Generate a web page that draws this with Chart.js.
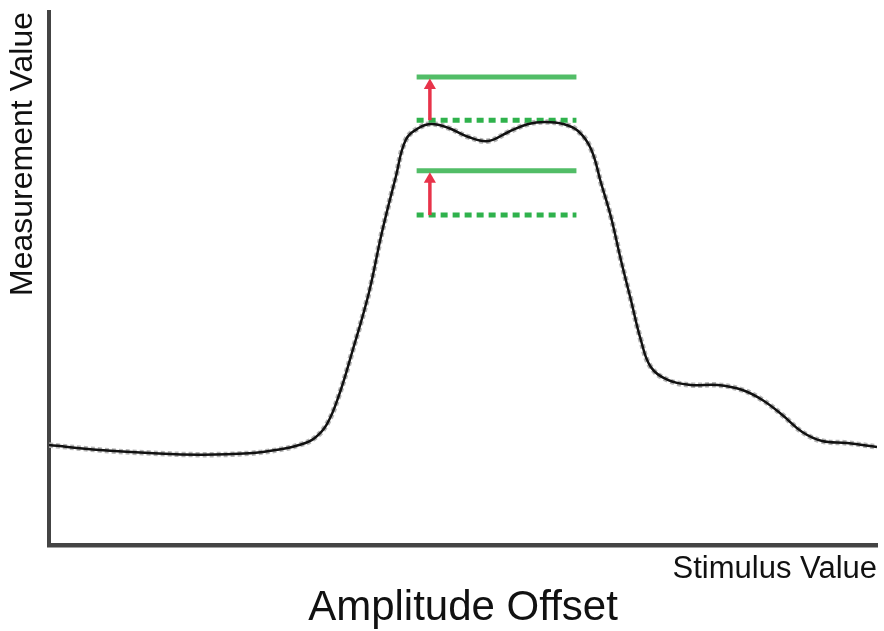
<!DOCTYPE html>
<html>
<head>
<meta charset="utf-8">
<script src="https://cdn.jsdelivr.net/npm/chart.js@4/dist/chart.umd.min.js"></script>
<style>
  html, body { margin: 0; padding: 0; background: #ffffff; }
  #wrap { width: 884px; height: 631px; position: relative; }
</style>
</head>
<body>
<div id="wrap"><canvas id="c"></canvas></div>
<script>
// Stimulus positions (x, 0-100) and measured response (y, 0-100)
const stimulusX = [0, 6.14, 12.15, 18.17, 24.19, 27.8, 30.2, 32.01, 33.57, 35.02, 36.58, 38.63, 40.19, 41.88, 43.08, 44.65, 46.21, 48.26, 50.66, 53.07, 55.48, 57.88, 59.93, 62.09, 63.9, 65.46, 66.67, 67.87, 69.07, 70.28, 71.48, 72.68, 74.73, 77.5, 80.75, 83.75, 86.16, 88.57, 90.97, 93.38, 96.39, 100];
const measurement = [18.76, 17.82, 17.26, 16.95, 17.2, 17.9, 18.76, 20.0, 22.7, 28.1, 36.02, 47.28, 58.54, 69.04, 75.98, 78.24, 78.99, 78.24, 76.55, 75.8, 77.49, 78.99, 79.36, 78.99, 77.67, 74.3, 67.92, 61.54, 53.47, 45.97, 38.46, 33.4, 30.96, 30.02, 30.02, 29.08, 27.2, 24.39, 21.2, 19.51, 19.14, 18.39];

// Offset reference levels
const levelX = [44.4, 63.7];
const baseLevels = [79.7, 61.9];     // dotted (before offset)
const offsetLevels = [87.8, 70.2];   // solid (after offset)
const arrowX = 46.0;
const arrowTips = [86.2, 68.6];

// Labels
const yLabel = 'Measurement Value';
const xLabel = 'Stimulus Value';
const mainLabel = 'Amplitude Offset';

const curvePts = stimulusX.map((x, i) => ({ x: x, y: measurement[i] }));

const datasets = [];
datasets.push({
  label: 'curve', data: curvePts, borderColor: '#111111', borderWidth: 2.5,
  pointRadius: 0, tension: 0.4, fill: false, order: 0
});
datasets.push({
  label: 'shadow', data: curvePts, borderColor: '#b5b5b5', borderWidth: 5.5,
  borderDash: [4, 3], pointRadius: 0, tension: 0.4, fill: false, order: 5
});
for (let k = 0; k < baseLevels.length; k++) {
  datasets.push({
    label: 'solid' + k,
    data: [{ x: levelX[0], y: offsetLevels[k] }, { x: levelX[1], y: offsetLevels[k] }],
    borderColor: '#52bd67', borderWidth: 5, pointRadius: 0, order: 3
  });
  datasets.push({
    label: 'dotted' + k,
    data: [{ x: levelX[0], y: baseLevels[k] }, { x: levelX[1], y: baseLevels[k] }],
    borderColor: '#2fb24c', borderWidth: 5, borderDash: [7, 5], pointRadius: 0, order: 3
  });
  datasets.push({
    label: 'arrow' + k,
    data: [{ x: arrowX, y: baseLevels[k] }, { x: arrowX, y: arrowTips[k] }],
    borderColor: '#e8334a', backgroundColor: '#e8334a', borderWidth: 3.5,
    pointStyle: 'triangle', pointRadius: [0, 7], pointBorderWidth: 0, order: 1
  });
}

new Chart(document.getElementById('c'), {
  type: 'line',
  data: { datasets: datasets },
  options: {
    responsive: true,
    maintainAspectRatio: false,
    animation: false,
    layout: { padding: { left: 0, right: 4, top: 12, bottom: 0 } },
    plugins: {
      legend: { display: false },
      tooltip: { enabled: false },
      title: {
        display: true, text: mainLabel, position: 'bottom', fullSize: false,
        color: '#111111',
        font: { family: '"Liberation Sans", Arial, sans-serif', size: 42, weight: 'normal', lineHeight: 1 },
        padding: { top: 1, bottom: 2 }
      }
    },
    scales: {
      x: {
        type: 'linear', min: 0, max: 100,
        grid: { display: false },
        border: { display: true, color: '#444444', width: 4.5 },
        ticks: { display: false },
        title: {
          display: true, text: xLabel, align: 'end', color: '#111111',
          font: { family: '"Liberation Sans", Arial, sans-serif', size: 31, lineHeight: 1 },
          padding: { top: 0, bottom: 1.5 }
        },
        afterFit: (s) => { s.height = 41; }
      },
      y: {
        type: 'linear', min: 0, max: 100,
        grid: { display: false },
        border: { display: true, color: '#444444', width: 4 },
        ticks: { display: false },
        title: {
          display: true, text: yLabel, align: 'end', color: '#111111',
          font: { family: '"Liberation Sans", Arial, sans-serif', size: 32, lineHeight: 1 },
          padding: { top: 7, bottom: 0 }
        },
        afterFit: (s) => { s.width = 49; }
      }
    }
  }
});
</script>
</body>
</html>
